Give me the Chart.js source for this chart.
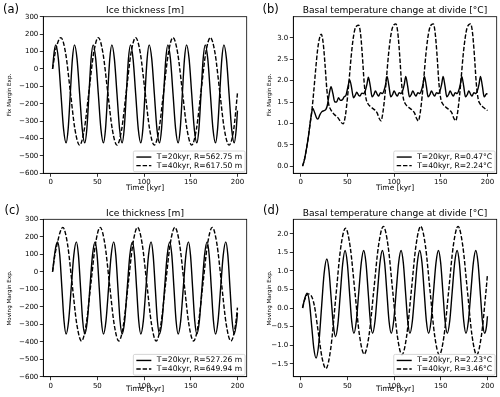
<!DOCTYPE html>
<html>
<head>
<meta charset="utf-8">
<script src="https://cdn.jsdelivr.net/npm/chart.js@4.4.1/dist/chart.umd.min.js"></script>
<style>
html, body { margin: 0; padding: 0; background: #fff; }
#fig { position: relative; width: 500px; height: 397px; overflow: hidden; }
canvas { position: absolute; }
</style>
</head>
<body>
<div id="fig">
<canvas id="pa" width="250" height="197" style="left:0;top:0"></canvas>
<canvas id="pb" width="250" height="197" style="left:250px;top:0"></canvas>
<canvas id="pc" width="250" height="200" style="left:0;top:197px"></canvas>
<canvas id="pd" width="250" height="200" style="left:250px;top:197px"></canvas>
</div>
<script>
// Time [kyr], value pairs
const fixIceT20 = [
    [2, 0], [3.8, 100],
    [5.5, 138], [8.25, 56], [11, -143], [13.75, -343], [16.5, -425], [18.75, -343], [21, -143], [23.25, 56],
    [25.5, 138], [28.25, 56], [31, -143], [33.75, -343], [36.5, -425], [38.75, -343], [41, -143], [43.25, 56],
    [45.5, 138], [48.25, 56], [51, -143], [53.75, -343], [56.5, -425], [58.75, -343], [61, -143], [63.25, 56],
    [65.5, 138], [68.25, 56], [71, -143], [73.75, -343], [76.5, -425], [78.75, -343], [81, -143], [83.25, 56],
    [85.5, 138], [88.25, 56], [91, -143], [93.75, -343], [96.5, -425], [98.75, -343], [101, -143], [103.25, 56],
    [105.5, 138], [108.25, 56], [111, -143], [113.75, -343], [116.5, -425], [118.75, -343], [121, -143], [123.25, 56],
    [125.5, 138], [128.25, 56], [131, -143], [133.75, -343], [136.5, -425], [138.75, -343], [141, -143], [143.25, 56],
    [145.5, 138], [148.25, 56], [151, -143], [153.75, -343], [156.5, -425], [158.75, -343], [161, -143], [163.25, 56],
    [165.5, 138], [168.25, 56], [171, -143], [173.75, -343], [176.5, -425], [178.75, -343], [181, -143], [183.25, 56],
    [185.5, 138], [188.25, 56], [191, -143], [193.75, -343], [196.5, -425], [198.75, -343], [200, -240],
];
const fixIceT40 = [
    [2, 0], [5, 97], [8, 158],
    [11, 180], [16, 90], [21, -129], [26, -348], [31, -438], [36, -348], [41, -129], [46, 90],
    [51, 180], [56, 90], [61, -129], [66, -348], [71, -438], [76, -348], [81, -129], [86, 90],
    [91, 180], [96, 90], [101, -129], [106, -348], [111, -438], [116, -348], [121, -129], [126, 90],
    [131, 180], [136, 90], [141, -129], [146, -348], [151, -438], [156, -348], [161, -129], [166, 90],
    [171, 180], [176, 90], [181, -129], [186, -348], [191, -438], [196, -348], [200, -140],
];
const fixTempT20 = [
    [2, 0], [4, 0.15], [6, 0.38], [8, 0.65], [10, 0.98], [11.5, 1.22], [13, 1.35], [15, 1.25], [17, 1.13],
    [18.5, 1.1], [20.5, 1.2], [22.5, 1.27], [25, 1.3], [27, 1.33], [28.5, 1.42], [30.5, 1.68], [32.5, 1.86],
    [34.5, 1.7], [36.5, 1.5], [38.5, 1.5], [40.5, 1.6], [42.5, 1.54], [44.5, 1.55], [46.5, 1.62], [48.5, 1.66],
    [50.5, 1.85], [52.5, 2.02],
    [54.5, 1.84], [56.5, 1.6], [58.5, 1.66], [60, 1.73], [62, 1.66], [63.5, 1.64], [65.5, 1.71], [67.5, 1.7],
    [69, 1.75], [71, 1.92], [72.5, 2.08],
    [74.5, 1.88], [76.5, 1.62], [78.5, 1.68], [80, 1.76], [82, 1.68], [83.5, 1.64], [85.5, 1.72], [87.5, 1.7],
    [89, 1.75], [91, 1.92], [92.5, 2.1],
    [94.5, 1.88], [96.5, 1.62], [98.5, 1.68], [100, 1.76], [102, 1.68], [103.5, 1.64], [105.5, 1.72], [107.5, 1.7],
    [109, 1.75], [111, 1.92], [112.5, 2.1],
    [114.5, 1.88], [116.5, 1.62], [118.5, 1.68], [120, 1.76], [122, 1.68], [123.5, 1.64], [125.5, 1.72], [127.5, 1.7],
    [129, 1.75], [131, 1.92], [132.5, 2.1],
    [134.5, 1.88], [136.5, 1.62], [138.5, 1.68], [140, 1.76], [142, 1.68], [143.5, 1.64], [145.5, 1.72], [147.5, 1.7],
    [149, 1.75], [151, 1.92], [152.5, 2.1],
    [154.5, 1.88], [156.5, 1.62], [158.5, 1.68], [160, 1.76], [162, 1.68], [163.5, 1.64], [165.5, 1.72], [167.5, 1.7],
    [169, 1.75], [171, 1.92], [172.5, 2.1],
    [174.5, 1.88], [176.5, 1.62], [178.5, 1.68], [180, 1.76], [182, 1.68], [183.5, 1.64], [185.5, 1.72], [187.5, 1.7],
    [189, 1.75], [191, 1.92], [192.5, 2.1],
    [194.5, 1.88], [196.5, 1.62], [198.5, 1.68], [200, 1.7],
];
const fixTempT40 = [
    [2, 0], [4, 0.15], [6, 0.38], [8, 0.65], [10, 0.98], [12, 1.3], [14, 1.75], [16, 2.25], [18, 2.7], [20, 2.98],
    [22, 3.09], [24, 2.9], [26, 2.4], [28, 1.8], [30, 1.45], [32, 1.33], [35.5, 1.22], [40, 1.13], [42.5, 1.05],
    [45.5, 0.99], [48, 1.2], [50, 1.58], [52, 2.05], [54, 2.55], [56, 2.95], [58, 3.2], [60, 3.28], [62, 3.3],
    [64, 3.12], [66, 2.6], [68, 1.95], [70, 1.58], [72, 1.46], [75.5, 1.38], [80, 1.3], [82, 1.24], [84, 1.12],
    [86, 1.06], [88, 1.25], [90, 1.62], [92, 2.1], [94, 2.6], [96, 2.98], [98, 3.22], [100, 3.31], [102, 3.33],
    [104, 3.12], [106, 2.6], [108, 1.95], [110, 1.58], [112, 1.46], [115.5, 1.38], [120, 1.3], [122, 1.24], [124, 1.12],
    [126, 1.06], [128, 1.25], [130, 1.62], [132, 2.1], [134, 2.6], [136, 2.98], [138, 3.22], [140, 3.31], [142, 3.33],
    [144, 3.12], [146, 2.6], [148, 1.95], [150, 1.58], [152, 1.46], [155.5, 1.38], [160, 1.3], [162, 1.24], [164, 1.12],
    [166, 1.06], [168, 1.25], [170, 1.62], [172, 2.1], [174, 2.6], [176, 2.98], [178, 3.22], [180, 3.31], [182, 3.33],
    [184, 3.12], [186, 2.6], [188, 1.95], [190, 1.58], [192, 1.46], [195.5, 1.38], [200, 1.3],
];
const movIceT20 = [
    [2, 0], [4, 90], [5.7, 148],
    [7.5, 171], [9.75, 94], [12, -92], [14.25, -279], [16.5, -356], [19.25, -279], [22, -92], [24.75, 94],
    [27.5, 171], [29.75, 94], [32, -92], [34.25, -279], [36.5, -356], [39.25, -279], [42, -92], [44.75, 94],
    [47.5, 171], [49.75, 94], [52, -92], [54.25, -279], [56.5, -356], [59.25, -279], [62, -92], [64.75, 94],
    [67.5, 171], [69.75, 94], [72, -92], [74.25, -279], [76.5, -356], [79.25, -279], [82, -92], [84.75, 94],
    [87.5, 171], [89.75, 94], [92, -92], [94.25, -279], [96.5, -356], [99.25, -279], [102, -92], [104.75, 94],
    [107.5, 171], [109.75, 94], [112, -92], [114.25, -279], [116.5, -356], [119.25, -279], [122, -92], [124.75, 94],
    [127.5, 171], [129.75, 94], [132, -92], [134.25, -279], [136.5, -356], [139.25, -279], [142, -92], [144.75, 94],
    [147.5, 171], [149.75, 94], [152, -92], [154.25, -279], [156.5, -356], [159.25, -279], [162, -92], [164.75, 94],
    [167.5, 171], [169.75, 94], [172, -92], [174.25, -279], [176.5, -356], [179.25, -279], [182, -92], [184.75, 94],
    [187.5, 171], [189.75, 94], [192, -92], [194.25, -279], [196.5, -356], [199.25, -279], [200, -236],
];
const movIceT40 = [
    [2, 0], [4.5, 95], [7, 160], [10, 225],
    [13, 254], [18, 159], [23, -71], [28, -301], [33, -396], [38, -301], [43, -71], [48, 159],
    [53, 254], [58, 159], [63, -71], [68, -301], [73, -396], [78, -301], [83, -71], [88, 159],
    [93, 254], [98, 159], [103, -71], [108, -301], [113, -396], [118, -301], [123, -71], [128, 159],
    [133, 254], [138, 159], [143, -71], [148, -301], [153, -396], [158, -301], [163, -71], [168, 159],
    [173, 254], [178, 159], [183, -71], [188, -301], [193, -396], [198, -301], [200, -205],
];
const movTempT20 = [
    [2, 0], [4.5, 0.27], [7, 0.4], [9.4, 0.14], [11.75, -0.475], [14.1, -1.09], [16.5, -1.35], [19.4, -0.96],
    [22.25, -0.015], [25.1, 0.93], [28, 1.32], [30.3, 1.01], [32.6, 0.275], [35, -0.46], [37.3, -0.77],
    [39.85, -0.43], [42.4, 0.375], [44.95, 1.18],
    [47.5, 1.55], [49.9, 1.22], [52.25, 0.44], [54.6, -0.35], [57, -0.68], [59.6, -0.35], [62.25, 0.44], [64.9, 1.22],
    [67.5, 1.55], [69.9, 1.22], [72.25, 0.44], [74.6, -0.35], [77, -0.68], [79.6, -0.35], [82.25, 0.44], [84.9, 1.22],
    [87.5, 1.55], [89.9, 1.22], [92.25, 0.44], [94.6, -0.35], [97, -0.68], [99.6, -0.35], [102.25, 0.44], [104.9, 1.22],
    [107.5, 1.55], [109.9, 1.22], [112.25, 0.44], [114.6, -0.35], [117, -0.68], [119.6, -0.35], [122.25, 0.44], [124.9, 1.22],
    [127.5, 1.55], [129.9, 1.22], [132.25, 0.44], [134.6, -0.35], [137, -0.68], [139.6, -0.35], [142.25, 0.44], [144.9, 1.22],
    [147.5, 1.55], [149.9, 1.22], [152.25, 0.44], [154.6, -0.35], [157, -0.68], [159.6, -0.35], [162.25, 0.44], [164.9, 1.22],
    [167.5, 1.55], [169.9, 1.22], [172.25, 0.44], [174.6, -0.35], [177, -0.68], [179.6, -0.35], [182.25, 0.44], [184.9, 1.22],
    [187.5, 1.55], [189.9, 1.22], [192.25, 0.44], [194.6, -0.35], [197, -0.68], [199, -0.49], [200, -0.22],
];
const movTempT40 = [
    [2, 0], [4, 0.2], [6, 0.33], [8, 0.38], [10.5, 0.36], [14.6, 0.07], [18.75, -0.635], [22.9, -1.34],
    [27, -1.63], [32.25, -1.08], [37.5, 0.26], [42.75, 1.6], [48, 2.15], [53, 1.65], [58, 0.455], [63, -0.74],
    [68, -1.24], [73.1, -0.75], [78.25, 0.47], [83.4, 1.69], [88.5, 2.2], [93.5, 1.69], [98.5, 0.47], [103.5, -0.75],
    [108.5, -1.26], [113.5, -0.75], [118.5, 0.47], [123.5, 1.69], [128.5, 2.2], [133.5, 1.69], [138.5, 0.47],
    [143.5, -0.75], [148.5, -1.26], [153.5, -0.75], [158.5, 0.47], [163.5, 1.69], [168.5, 2.2], [173.5, 1.69],
    [178.5, 0.47], [183.5, -0.75], [188.5, -1.26], [193.5, -0.75], [198.5, 0.47], [200, 0.9],
];

// Tick labels
const timeTicks = [0, 50, 100, 150, 200];
const iceTicks = [-600, -500, -400, -300, -200, -100, 0, 100, 200, 300];
const fixTempTicks = [0, 0.5, 1, 1.5, 2, 2.5, 3];
const movTempTicks = [-1.5, -1, -0.5, 0, 0.5, 1, 1.5, 2];

// Texts
const titleIce = 'Ice thickness [m]';
const titleTemp = 'Basal temperature change at divide [\u00b0C]';
const legendA = ['T=20kyr, R=562.75 m', 'T=40kyr, R=617.50 m'];
const legendB = ['T=20kyr, R=0.47\u00b0C', 'T=40kyr, R=2.24\u00b0C'];
const legendC = ['T=20kyr, R=527.26 m', 'T=40kyr, R=649.94 m'];
const legendD = ['T=20kyr, R=2.23\u00b0C', 'T=40kyr, R=3.46\u00b0C'];

const FONT = "'DejaVu Sans', sans-serif";
const DASH = [4.4, 1.9];
const LINE_W = 1.4;

/**
 * Draws the axes box, title, panel tag and the legend inside the axes
 */
const pluginFrame = {
    id: 'frame',
    afterDatasetsDraw: function(chart, args, opts) {
        'use strict';
        const ctx = chart.ctx;
        const a = chart.chartArea;
        ctx.save();
        ctx.strokeStyle = '#000';
        ctx.lineWidth = 0.8;
        ctx.strokeRect(a.left, a.top, a.right - a.left, a.bottom - a.top);

        ctx.fillStyle = '#000';
        ctx.textBaseline = 'middle';
        ctx.textAlign = 'center';
        ctx.font = '9.1px ' + FONT;
        ctx.fillText(opts.title, (a.left + a.right) / 2, a.top - 5.6);

        ctx.textAlign = 'left';
        ctx.font = '11.5px ' + FONT;
        ctx.fillText(opts.tag, opts.tagX, opts.tagY);

        // Legend, lower right
        ctx.font = '7.6px ' + FONT;
        let tw = 0;
        for (const label of opts.labels)
            tw = Math.max(tw, ctx.measureText(label).width);
        const pad = 3, handle = 15, gap = 5.5, rowH = 8.6;
        const w = pad + handle + gap + tw + pad;
        const h = 2 * rowH + 3.5;
        const x0 = a.right - 1.6 - w;
        const y0 = a.bottom - 1.6 - h;
        ctx.beginPath();
        ctx.roundRect(x0, y0, w, h, 1.5);
        ctx.fillStyle = 'rgba(255,255,255,0.8)';
        ctx.fill();
        ctx.strokeStyle = '#ccc';
        ctx.lineWidth = 0.8;
        ctx.stroke();
        for (let i = 0; i < opts.labels.length; ++i) {
            const y = y0 + 1.75 + rowH * (i + 0.5);
            ctx.beginPath();
            ctx.setLineDash(i == 0 ? [] : DASH);
            ctx.strokeStyle = '#000';
            ctx.lineWidth = LINE_W;
            ctx.moveTo(x0 + pad, y);
            ctx.lineTo(x0 + pad + handle, y);
            ctx.stroke();
            ctx.setLineDash([]);
            ctx.fillStyle = '#000';
            ctx.fillText(opts.labels[i], x0 + pad + handle + gap, y);
        }
        ctx.restore();
    },
};

const panels = [
    {id: 'pa', tag: '(a)', tagX: 3, tagY: 10, title: titleIce, ylabel: 'Fix Margin Exp.',
        series: [fixIceT20, fixIceT40], labels: legendA, yMin: -600, yMax: 300, yTicks: iceTicks,
        digits: 0, height: 197, top: 16.7, bottom: 173.3, ylabelPad: 6.4, xlabelPad: 4},
    {id: 'pb', tag: '(b)', tagX: 12.5, tagY: 10, title: titleTemp, ylabel: 'Fix Margin Exp.',
        series: [fixTempT20, fixTempT40], labels: legendB, yMin: -0.167, yMax: 3.497, yTicks: fixTempTicks,
        digits: 1, height: 197, top: 16.7, bottom: 173.3, ylabelPad: 15.9, xlabelPad: 4},
    {id: 'pc', tag: '(c)', tagX: 4.5, tagY: 14, title: titleIce, ylabel: 'Moving Margin Exp.',
        series: [movIceT20, movIceT40], labels: legendC, yMin: -600, yMax: 300, yTicks: iceTicks,
        digits: 0, height: 200, top: 22.3, bottom: 179.7, ylabelPad: 6.4, xlabelPad: 3},
    {id: 'pd', tag: '(d)', tagX: 13, tagY: 13.7, title: titleTemp, ylabel: 'Moving Margin Exp.',
        series: [movTempT20, movTempT40], labels: legendD, yMin: -1.85, yMax: 2.39, yTicks: movTempTicks,
        digits: 1, height: 200, top: 22.3, bottom: 179.7, ylabelPad: 15.9, xlabelPad: 3},
];

function fmtTick(v, digits) {
    'use strict';
    return v.toFixed(digits).replace('-', '\u2212');
}

function createPanel(p) {
    'use strict';
    const axisGrid = {
        drawOnChartArea: false,
        drawTicks: true,
        tickLength: 3.5,
        tickWidth: 0.8,
        tickColor: '#000',
    };
    const axisBorder = {display: true, color: '#000', width: 0.8};
    const datasets = p.series.map((pts, i) => ({
        data: pts.map(([t, v]) => ({x: t, y: v})),
        borderColor: '#000',
        borderWidth: LINE_W,
        borderDash: i == 0 ? [] : DASH,
        pointRadius: 0,
        hoverRadius: 0,
        cubicInterpolationMode: 'monotone',
        fill: false,
    }));

    return new Chart(document.getElementById(p.id), {
        type: 'line',
        data: {datasets: datasets},
        options: {
            responsive: false,
            animation: false,
            events: [],
            layout: {padding: {top: p.top, right: 3.3, bottom: 0, left: 0}},
            scales: {
                x: {
                    type: 'linear',
                    min: -7.9,
                    max: 209.9,
                    afterBuildTicks: s => {
                        s.ticks = timeTicks.map(v => ({value: v}));
                    },
                    afterFit: s => {
                        s.height = p.height - p.bottom;
                    },
                    grid: axisGrid,
                    border: axisBorder,
                    ticks: {
                        color: '#000',
                        font: {family: FONT, size: 7},
                        padding: 1.5,
                        maxRotation: 0,
                        autoSkip: false,
                        callback: v => fmtTick(v, 0),
                    },
                    title: {
                        display: true,
                        text: 'Time [kyr]',
                        color: '#000',
                        font: {family: FONT, size: 7.5},
                        padding: {top: 0, bottom: p.xlabelPad},
                    },
                },
                y: {
                    type: 'linear',
                    min: p.yMin,
                    max: p.yMax,
                    afterBuildTicks: s => {
                        s.ticks = p.yTicks.map(v => ({value: v}));
                    },
                    afterFit: s => {
                        s.width = 43.3;
                    },
                    grid: axisGrid,
                    border: axisBorder,
                    ticks: {
                        color: '#000',
                        font: {family: FONT, size: 7},
                        padding: 1.5,
                        autoSkip: false,
                        callback: v => fmtTick(v, p.digits),
                    },
                    title: {
                        display: true,
                        text: p.ylabel,
                        color: '#000',
                        font: {family: FONT, size: 5.6},
                        padding: {top: p.ylabelPad, bottom: 0},
                    },
                },
            },
            plugins: {
                legend: {display: false},
                tooltip: {enabled: false},
                frame: {title: p.title, tag: p.tag, tagX: p.tagX, tagY: p.tagY, labels: p.labels},
            },
        },
        plugins: [pluginFrame],
    });
}

Chart.defaults.font.family = FONT;
for (const p of panels)
    createPanel(p);
</script>
</body>
</html>
